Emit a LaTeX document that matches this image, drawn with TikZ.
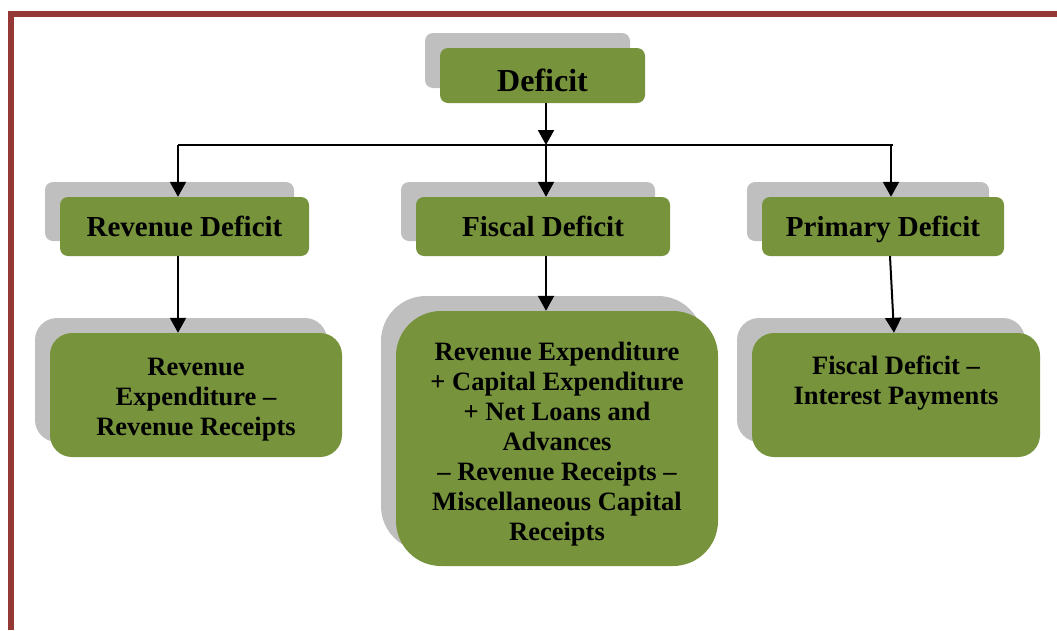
\documentclass[tikz,border=0pt]{standalone}
\usepackage{fontspec}
\setmainfont{Liberation Serif}
\usetikzlibrary{positioning, arrows.meta, shadows}
\definecolor{olive}{HTML}{77933C}
\definecolor{shade}{HTML}{BFBFBF}
\definecolor{framered}{HTML}{953735}

\begin{document}
\begin{tikzpicture}[x=1pt, y=-1pt,
  main/.style = {fill=olive, rounded corners=8pt, inner sep=0pt, align=center, text height=23pt, text depth=3pt, font=\bfseries\fontsize{29}{33}\selectfont, general shadow={fill=shade, shadow xshift=-15pt, shadow yshift=15pt}},
  sum/.style = {main, rounded corners=22pt, text height=80pt, text depth=0pt, font=\bfseries\fontsize{26.5}{30}\selectfont},
  arr/.style = {-{Triangle[length=15pt, width=16pt]}, line width=2pt}]
\useasboundingbox (0,0) rectangle (1057,630);
\draw[framered, line width=6pt] (10.5,630) -- (10.5,14) -- (1057,14);

\node[main, minimum width=205pt, minimum height=55pt, text height=35pt, font=\bfseries\fontsize{32}{36}\selectfont] (def) at (542.5,75.5) {Deficit};
\node[main, minimum width=249pt, minimum height=59pt] (rev) at (184.5,226.5) {Revenue Deficit};
\node[main, minimum width=254pt, minimum height=59pt] (fis) at (543,226.5) {Fiscal Deficit};
\node[main, minimum width=242pt, minimum height=59pt] (prim) at (883,226.5) {Primary Deficit};

\node[sum, minimum width=292pt, minimum height=124pt] (revsum) at (196,395) {Revenue\\ Expenditure --\\ Revenue Receipts};
\node[sum, minimum width=322pt, minimum height=255pt, rounded corners=45pt, text height=203pt] (fissum) at (557,438.5) {Revenue Expenditure\\ + Capital Expenditure\\ + Net Loans and\\ Advances\\ -- Revenue Receipts --\\ Miscellaneous Capital\\ Receipts};
\node[sum, minimum width=288pt, minimum height=124pt, text height=21pt, text depth=3pt] (primsum) at (896,395) {Fiscal Deficit --\\ Interest Payments};

\coordinate (j1) at (178,145);
\coordinate (j2) at (546,145);
\coordinate (j3) at (891,145);

\draw[arr] (j2 |- def.south) -- (j2);
\draw[line width=1.5pt] (j1) -- ([xshift=2pt]j3);
\draw[arr] (j1) -- (j1 |- rev.north);
\draw[arr] (j2) -- (j2 |- fis.north);
\draw[arr] (j3) -- (j3 |- prim.north);

\draw[arr] (j1 |- rev.south) -- (j1 |- revsum.north);
\draw[arr] (j2 |- fis.south) -- (j2 |- fissum.north);
\draw[arr] ([xshift=7pt]prim.south) -- ([xshift=-2pt]primsum.north);

\end{tikzpicture}
\end{document}
